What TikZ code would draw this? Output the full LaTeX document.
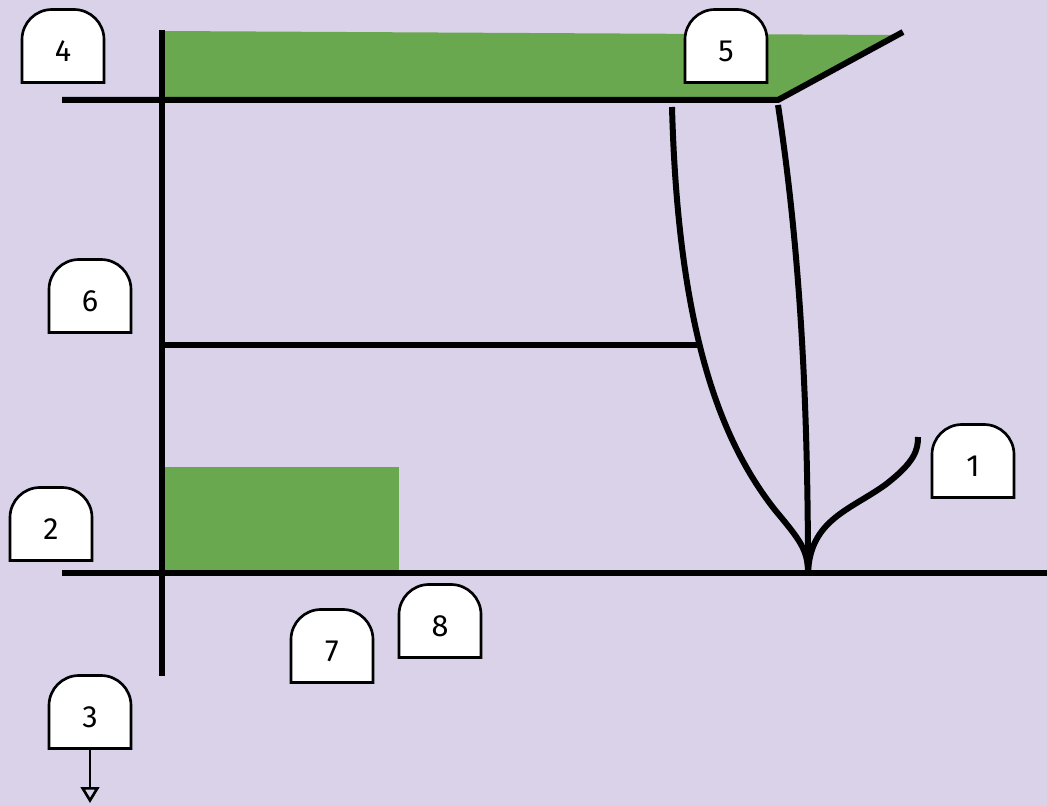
\documentclass[tikz,border=0pt]{standalone}
\usepackage{fontspec}
\setmainfont{Fira Sans}
\usetikzlibrary{arrows.meta}
\definecolor{lilac}{HTML}{D9D2E9}
\definecolor{leaf}{HTML}{6AA84F}
\tikzset{
  bar/.style={line width=4.5pt},
  tagline/.style={line width=2pt, fill=white},
  tagtext/.style={minimum width=61.5pt, minimum height=54.75pt, inner sep=0pt,
    text height=26pt, text depth=2.5pt, font=\fontsize{23}{26}\selectfont}
}
% rounded-top label: name, centre, text
\newcommand{\tagbox}[3]{%
  \draw[tagline] (#2) ++(-41,36.5) -- ++(0,-43) arc[start angle=180, end angle=90, radius=22.5pt]
    -- ++(22,0) arc[start angle=90, end angle=0, radius=22.5pt] -- ++(0,43) -- cycle;
  \node[tagtext] (#1) at (#2) {#3};
}
\begin{document}
\begin{tikzpicture}[x=0.75pt,y=-0.75pt]
\fill[lilac] (0,0) rectangle (1047,806);
\useasboundingbox (0,0) rectangle (1047,806);
% green areas
\fill[leaf] (164,31) -- (893,35) -- (778,99) -- (164,99) -- cycle;
\fill[leaf] (164,467) rectangle (399,571);
% frame
\draw[bar] (162,30) -- (162,676);
\draw[bar] (62,100) -- (778,100) -- (903,32);
\draw[bar] (62,573) -- (1047,573);
\draw[bar] (162,345) -- (697,345);
% stems
\draw[bar] (672,107) .. controls (678,330) and (720,440) .. (775,510) .. controls (800,540) and (808,550) .. (808,573);
\draw[bar] (778,105) .. controls (800,250) and (808,400) .. (808,573);
\draw[bar] (808,573) .. controls (810,520) and (850,510) .. (885,485) .. controls (915,462) and (918,450) .. (918,437);
% labels
\tagbox{t1}{973,461}{1}
\tagbox{t2}{51,524}{2}
\tagbox{t3}{90,712}{3}
\tagbox{t4}{63,46}{4}
\tagbox{t5}{726,46}{5}
\tagbox{t6}{90,296}{6}
\tagbox{t7}{332,646}{7}
\tagbox{t8}{440,621}{8}
\coordinate (down) at (90,803);
\draw[line width=2pt,-{Triangle[open,length=12pt,width=14pt]}] (t3.south) -- (down);
\end{tikzpicture}
\end{document}
